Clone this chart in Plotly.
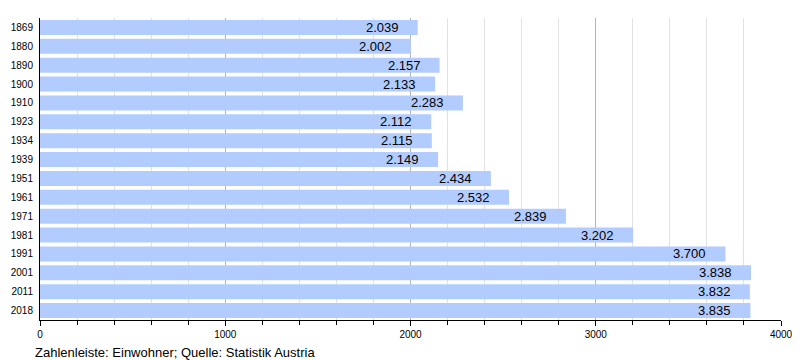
import plotly.graph_objects as go

years = ["1869", "1880", "1890", "1900", "1910", "1923", "1934", "1939",
         "1951", "1961", "1971", "1981", "1991", "2001", "2011", "2018"]
population = [2039, 2002, 2157, 2133, 2283, 2112, 2115, 2149,
              2434, 2532, 2839, 3202, 3700, 3838, 3832, 3835]
x_ticks = [0, 1000, 2000, 3000, 4000]
caption = "Zahlenleiste: Einwohner; Quelle: Statistik Austria"

FONT = "Liberation Sans, Arial, sans-serif"
W, H = 792, 352          # page body has an 8px margin
L, R, T, B = 32, 19, 10, 40
PW, PH = W - L - R, H - T - B


def de_format(v):
    return f"{v:,}".replace(",", ".")


fig = go.Figure(go.Bar(
    x=population, y=years, orientation="h",
    marker=dict(color="#b3ccff", line=dict(width=0)),
    hoverinfo="skip",
))

# category axis: annotation y given as the category index
value_labels = [dict(
    x=v, y=i, xref="x", yref="y", text=de_format(v),
    showarrow=False, xanchor="right", yanchor="middle", xshift=-17,
    font=dict(size=13, color="#000000", family=FONT),
) for i, v in enumerate(population)]

caption_ann = dict(
    text=caption, xref="paper", yref="paper",
    x=(25 - L) / PW, y=-(344 - (H - B)) / PH,
    showarrow=False, xanchor="left", yanchor="middle",
    font=dict(size=13, color="#000000", family=FONT),
)

fig.update_layout(
    width=W, height=H,
    margin=dict(l=L, r=R, t=T, b=B, autoexpand=False),
    paper_bgcolor="white", plot_bgcolor="white",
    bargap=0.2,
    showlegend=False,
    font=dict(family=FONT, color="#000000"),
    xaxis=dict(
        range=[0, 4000], tickvals=x_ticks, tickformat="d",
        showgrid=True, gridcolor="#b4b4b4", gridwidth=1,
        showline=True, linecolor="#000000", linewidth=1,
        ticks="outside", ticklen=5, tickcolor="#000000",
        tickfont=dict(size=10), zeroline=False, automargin=False,
        minor=dict(dtick=200, showgrid=True, gridcolor="#e2e2e2",
                   ticks="outside", ticklen=4, tickcolor="#000000"),
        fixedrange=True,
    ),
    yaxis=dict(
        type="category", categoryorder="array", categoryarray=years,
        range=[len(years) - 0.5, -0.5],
        showline=True, linecolor="#000000", linewidth=1,
        showgrid=False, ticks="", tickfont=dict(size=10),
        ticklabelstandoff=4,
        automargin=False, fixedrange=True,
    ),
    annotations=value_labels + [caption_ann],
)

fig.write_html("out.html", config={"displayModeBar": False})
